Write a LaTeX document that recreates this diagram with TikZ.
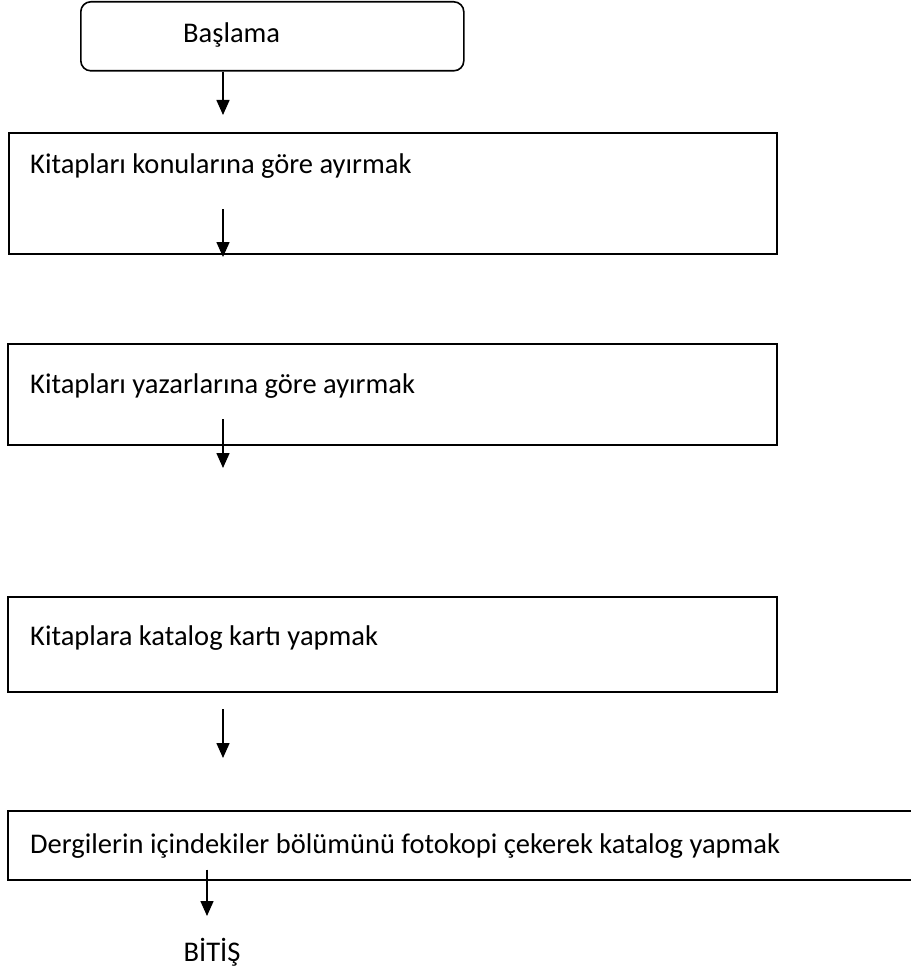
\documentclass[tikz,border=0pt]{standalone}
\usepackage{fontspec}
\setmainfont{Carlito}
\usetikzlibrary{arrows.meta}
\begin{document}
\begin{tikzpicture}[x=1pt,y=-1pt,
  frame/.style={draw=black, line width=1.6pt, inner sep=0pt, anchor=north west},
  startbox/.style={frame, rounded corners=10pt},
  label/.style={font=\fontsize{28.5}{34}\selectfont, inner sep=0pt},
  flow/.style={line width=1.5pt, -{Triangle[length=15pt,width=13pt]}}
]
\useasboundingbox (0,0) rectangle (910,971);

% start and process boxes
\node[startbox, minimum width=383, minimum height=69] (start) at (80,1) {};
\node[frame, minimum width=768, minimum height=121] (sortTopic) at (8,132) {};
\node[frame, minimum width=769, minimum height=101] (sortAuthor) at (7,343) {};
\node[frame, minimum width=769, minimum height=95] (cards) at (7,596) {};
\node[frame, minimum width=910, minimum height=69] (journals) at (7,810) {};

% box texts
\node[label, anchor=base west] (tStart) at (183,43) {Başlama};
\node[label, anchor=base west] (tTopic) at (30,173) {Kitapları konularına göre ayırmak};
\node[label, anchor=base west] (tAuthor) at (30,393) {Kitapları yazarlarına göre ayırmak};
\node[label, anchor=base west] (tCards) at (30,645) {Kitaplara katalog kartı yapmak};
\node[label, anchor=base west] (tJournals) at (30,853) {Dergilerin içindekiler bölümünü fotokopi çekerek katalog yapmak};
\node[label, anchor=base] (finish) at (212,961) {BİTİŞ};

% connector end points
\coordinate (e1) at (223,115);
\coordinate (s2) at (223,209);
\coordinate (e2) at (223,257);
\coordinate (s3) at (223,419);
\coordinate (e3) at (223,468);
\coordinate (s4) at (223,709);
\coordinate (e4) at (223,758);
\coordinate (e5) at (207,916);

% connectors
\draw[flow] (start.south -| e1) -- (e1);
\draw[flow] (s2) -- (e2);
\draw[flow] (s3) -- (e3);
\draw[flow] (s4) -- (e4);
\draw[flow] ([yshift=11pt]journals.south -| e5) -- (e5);
\end{tikzpicture}
\end{document}
